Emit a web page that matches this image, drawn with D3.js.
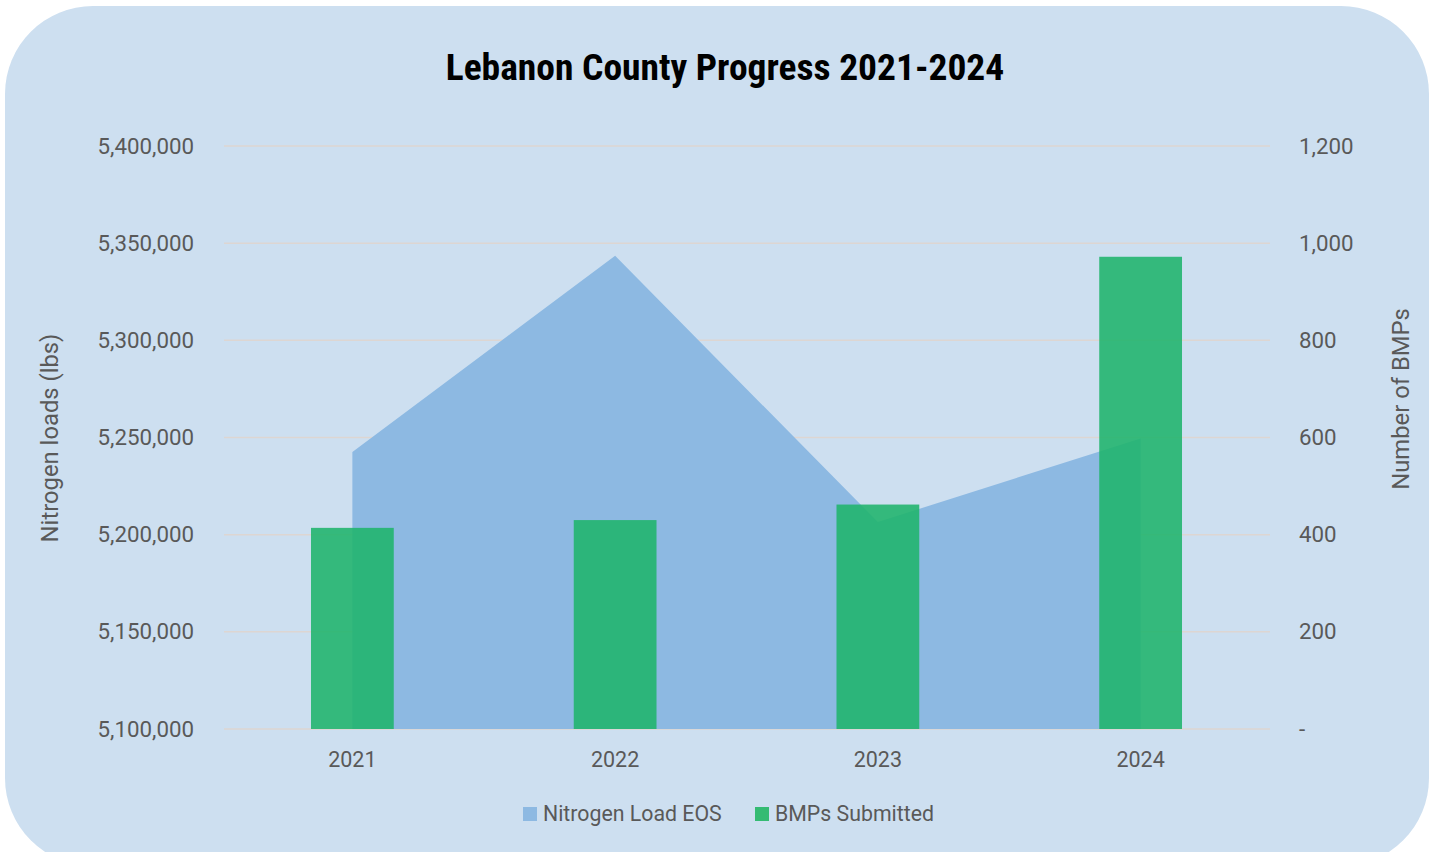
<!DOCTYPE html>
<html>
<head>
<meta charset="utf-8">
<script src="https://cdn.jsdelivr.net/npm/d3@7"></script>
<style>
  html, body { margin: 0; padding: 0; background: #ffffff; }
  svg { display: block; }
</style>
</head>
<body>
<svg id="chart" width="1435" height="852"></svg>
<script>
// 数据
const years = ["2021", "2022", "2023", "2024"];
const nitrogenLoad = [5242500, 5343500, 5206500, 5249500];
const bmpsSubmitted = [414, 430, 462, 972];
const leftTicks = [5100000, 5150000, 5200000, 5250000, 5300000, 5350000, 5400000];
const rightTicks = [0, 200, 400, 600, 800, 1000, 1200];

const W = 1435, H = 852;
const margin = { left: 221, right: 163, top: 146, bottom: 123 };
const svg = d3.select("#chart");
const font = "Roboto, 'Open Sans', sans-serif";

// 背景圆角矩形
svg.append("rect")
    .attr("x", 5).attr("y", 6)
    .attr("width", 1424).attr("height", 860)
    .attr("rx", 88).attr("ry", 88)
    .attr("fill", "#cddff0");

// 比例尺
const x = d3.scaleBand().domain(years).range([margin.left, W - margin.right]);
const yL = d3.scaleLinear().domain([5100000, 5400000]).range([H - margin.bottom, margin.top]);
const yR = d3.scaleLinear().domain([0, 1200]).range([H - margin.bottom, margin.top]);
const cx = d => x(d) + x.bandwidth() / 2;

// 网格线
svg.append("g")
    .selectAll("line")
    .data(leftTicks)
    .enter().append("line")
    .attr("x1", margin.left + 3).attr("x2", W - margin.right - 2)
    .attr("y1", d => yL(d)).attr("y2", d => yL(d))
    .attr("stroke", "#ddd6d2").attr("stroke-width", 1.5);

// 面积（Nitrogen Load EOS）
const area = d3.area()
    .x((d, i) => cx(years[i]))
    .y0(yL(5100000))
    .y1(d => yL(d));
svg.append("path")
    .datum(nitrogenLoad)
    .attr("d", area)
    .attr("fill", "#8db9e2");

// 柱形（BMPs Submitted）
const barW = x.bandwidth() * 0.315;
svg.append("g")
    .selectAll("rect")
    .data(bmpsSubmitted)
    .enter().append("rect")
    .attr("x", (d, i) => cx(years[i]) - barW / 2)
    .attr("y", d => yR(d))
    .attr("width", barW)
    .attr("height", d => yR(0) - yR(d))
    .attr("fill", "#1fb46b")
    .attr("fill-opacity", 0.88);

// 左轴
const axisL = d3.axisLeft(yL).tickValues(leftTicks).tickSize(0).tickPadding(0)
    .tickFormat(d3.format(","));
svg.append("g")
    .attr("transform", `translate(194,0)`)
    .call(axisL)
    .call(g => g.select(".domain").remove())
    .selectAll("text")
    .attr("font-family", font).attr("font-size", 22.3).attr("fill", "#595959");

// 右轴
const axisR = d3.axisRight(yR).tickValues(rightTicks).tickSize(0).tickPadding(0)
    .tickFormat(d => d === 0 ? "-" : d3.format(",")(d));
svg.append("g")
    .attr("transform", `translate(1299,0)`)
    .call(axisR)
    .call(g => g.select(".domain").remove())
    .selectAll("text")
    .attr("font-family", font).attr("font-size", 22.3).attr("fill", "#595959");

// X 轴
const axisX = d3.axisBottom(x).tickSize(0).tickPadding(0);
svg.append("g")
    .attr("transform", `translate(0,${H - margin.bottom + 31})`)
    .call(axisX)
    .call(g => g.select(".domain").remove())
    .selectAll("text")
    .attr("dy", "0.32em")
    .attr("font-family", font).attr("font-size", 21.5).attr("fill", "#595959");

// 标题
svg.append("text")
    .attr("x", 725).attr("y", 80)
    .attr("text-anchor", "middle")
    .attr("font-family", "'Liberation Sans Narrow', 'Roboto Condensed', Roboto, sans-serif")
    .attr("font-weight", "bold")
    .attr("font-size", 37.5)
    .attr("fill", "#000")
    .text("Lebanon County Progress 2021-2024");

// 轴标题
svg.append("text")
    .attr("transform", "translate(58,438) rotate(-90)")
    .attr("text-anchor", "middle")
    .attr("font-family", font).attr("font-size", 23.8).attr("fill", "#595959")
    .text("Nitrogen loads (lbs)");
svg.append("text")
    .attr("transform", "translate(1409,399) rotate(-90)")
    .attr("text-anchor", "middle")
    .attr("font-family", font).attr("font-size", 23.8).attr("fill", "#595959")
    .text("Number of BMPs");

// 图例
const legend = [
    { label: "Nitrogen Load EOS", color: "#8db9e2", x: 523 },
    { label: "BMPs Submitted", color: "#34bb73", x: 755 }
];
const lg = svg.append("g").selectAll("g").data(legend).enter().append("g")
    .attr("transform", d => `translate(${d.x},807)`);
lg.append("rect").attr("width", 14).attr("height", 14).attr("fill", d => d.color);
lg.append("text")
    .attr("x", 20).attr("y", 7).attr("dy", "0.35em")
    .attr("font-family", font).attr("font-size", 21.3).attr("fill", "#595959")
    .text(d => d.label);
</script>
</body>
</html>
